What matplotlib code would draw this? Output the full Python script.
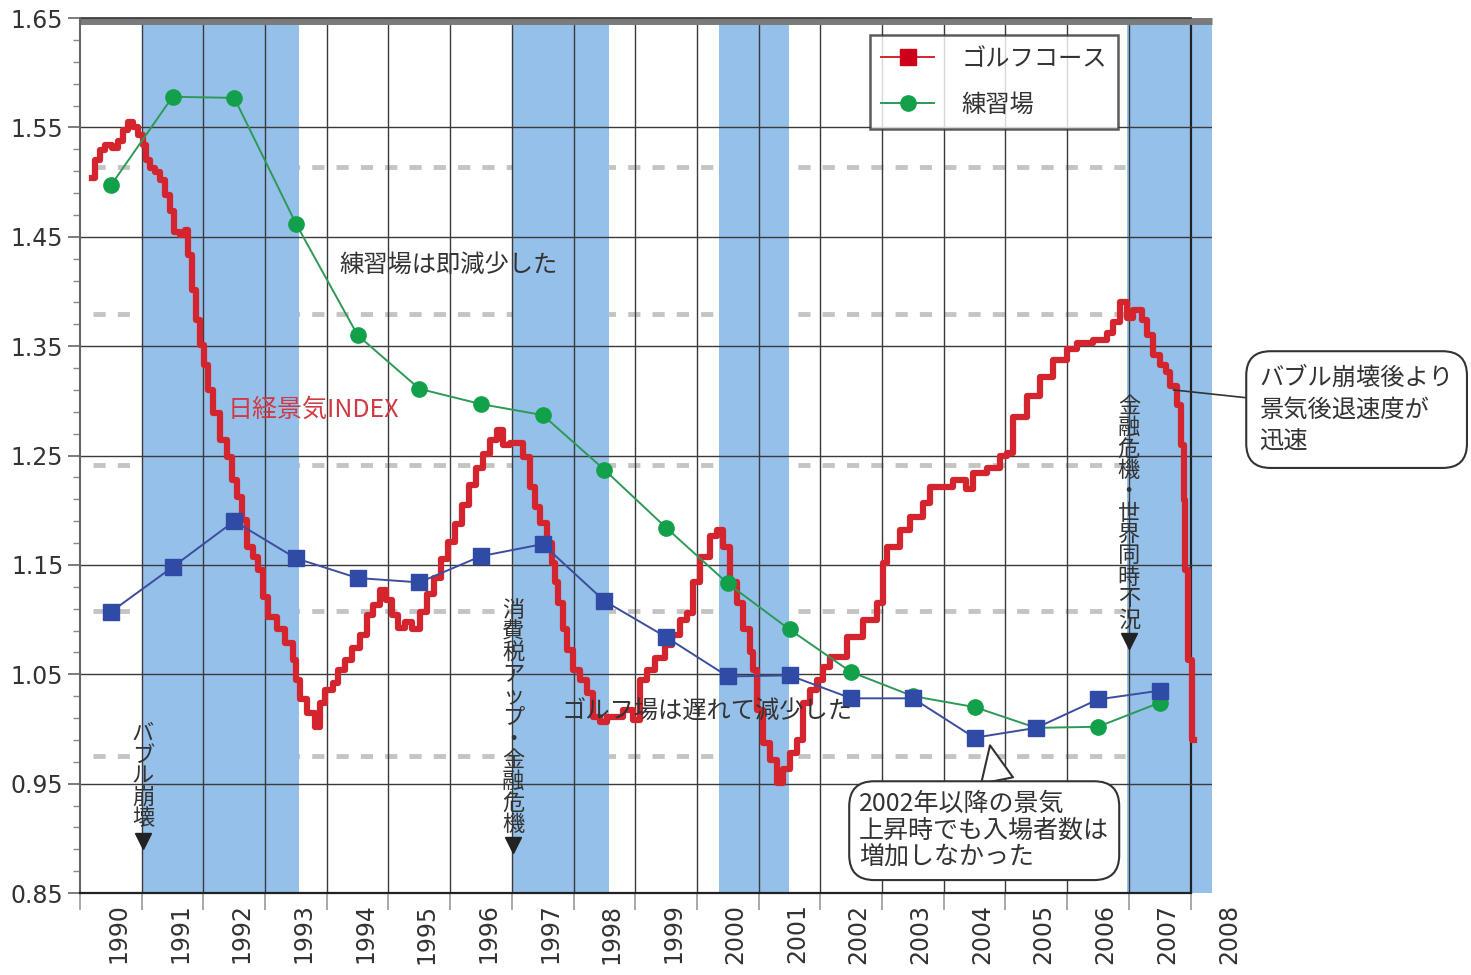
import numpy as np
import matplotlib.pyplot as plt
from matplotlib.lines import Line2D

plt.rcParams['font.family'] = ['Noto Sans CJK JP', 'DejaVu Sans']

# 年次データ(年の中央にプロット)
anios = np.arange(1990, 2008) + 0.5
golf_course = [1.107, 1.148, 1.190, 1.156, 1.138, 1.134, 1.158, 1.169, 1.117,
               1.084, 1.048, 1.049, 1.028, 1.028, 0.992, 1.001, 1.027, 1.035]
renshujo = [1.497, 1.578, 1.577, 1.462, 1.360, 1.311, 1.297, 1.287, 1.237,
            1.184, 1.133, 1.091, 1.052, 1.030, 1.020, 1.001, 1.002, 1.024]

# 日経景気INDEX (月次、階段状)
nikkei_t = [1990.19, 1990.24, 1990.32, 1990.41, 1990.52, 1990.62, 1990.70, 1990.78, 1990.86, 1990.94,
            1991.02, 1991.07, 1991.13, 1991.22, 1991.30, 1991.38, 1991.46, 1991.52, 1991.62, 1991.70,
            1991.75, 1991.82, 1991.88, 1991.94, 1992.01, 1992.07, 1992.16, 1992.27, 1992.38, 1992.46,
            1992.54, 1992.63, 1992.71, 1992.80, 1992.88, 1992.97, 1993.05, 1993.19, 1993.32, 1993.45,
            1993.50, 1993.57, 1993.68, 1993.81, 1993.89, 1993.97, 1994.10, 1994.18, 1994.30, 1994.41,
            1994.54, 1994.65, 1994.75, 1994.86, 1994.96, 1995.06, 1995.15, 1995.27, 1995.38, 1995.51,
            1995.62, 1995.74, 1995.85, 1995.96, 1996.08, 1996.19, 1996.30, 1996.42, 1996.53, 1996.65,
            1996.76, 1996.86, 1996.97, 1997.10, 1997.18, 1997.29, 1997.37, 1997.46, 1997.57, 1997.65,
            1997.70, 1997.75, 1997.83, 1997.89, 1997.99, 1998.10, 1998.22, 1998.31, 1998.43, 1998.54,
            1998.64, 1998.80, 1998.96, 1999.08, 1999.19, 1999.32, 1999.48, 1999.59, 1999.72, 1999.84,
            1999.94, 2000.05, 2000.21, 2000.32, 2000.42, 2000.53, 2000.65, 2000.75, 2000.86, 2000.91,
            2000.97, 2001.07, 2001.18, 2001.30, 2001.39, 2001.51, 2001.62, 2001.72, 2001.83, 2001.94,
            2002.04, 2002.16, 2002.43, 2002.69, 2002.92, 2003.01, 2003.08, 2003.29, 2003.45, 2003.66,
            2003.78, 2004.05, 2004.15, 2004.36, 2004.47, 2004.70, 2004.91, 2005.02, 2005.12, 2005.35,
            2005.56, 2005.77, 2006.00, 2006.16, 2006.42, 2006.64, 2006.74, 2006.86, 2006.97, 2007.07,
            2007.21, 2007.29, 2007.39, 2007.50, 2007.60, 2007.67, 2007.78, 2007.84, 2007.89, 2007.91,
            2007.96, 2008.02, 2008.05]
nikkei_v = [1.504, 1.520, 1.529, 1.534, 1.531, 1.538, 1.548, 1.555, 1.550, 1.543,
            1.534, 1.520, 1.513, 1.509, 1.502, 1.488, 1.474, 1.454, 1.452, 1.456,
            1.433, 1.401, 1.374, 1.351, 1.333, 1.310, 1.289, 1.264, 1.249, 1.228,
            1.212, 1.191, 1.166, 1.157, 1.145, 1.121, 1.102, 1.091, 1.079, 1.063,
            1.045, 1.027, 1.015, 1.002, 1.024, 1.036, 1.042, 1.054, 1.063, 1.074,
            1.086, 1.104, 1.113, 1.127, 1.118, 1.104, 1.092, 1.098, 1.091, 1.107,
            1.123, 1.138, 1.155, 1.171, 1.187, 1.205, 1.223, 1.239, 1.251, 1.264,
            1.273, 1.260, 1.261, 1.261, 1.249, 1.221, 1.203, 1.188, 1.170, 1.152,
            1.134, 1.115, 1.091, 1.072, 1.054, 1.045, 1.033, 1.011, 1.006, 1.011,
            1.011, 1.017, 1.008, 1.045, 1.054, 1.065, 1.077, 1.086, 1.100, 1.106,
            1.134, 1.157, 1.176, 1.182, 1.166, 1.134, 1.115, 1.091, 1.070, 1.054,
            1.017, 0.987, 0.972, 0.951, 0.963, 0.978, 0.990, 1.024, 1.036, 1.045,
            1.057, 1.066, 1.084, 1.100, 1.115, 1.152, 1.166, 1.182, 1.194, 1.207,
            1.221, 1.221, 1.228, 1.219, 1.234, 1.239, 1.250, 1.252, 1.285, 1.304,
            1.322, 1.337, 1.347, 1.353, 1.356, 1.362, 1.372, 1.390, 1.376, 1.383,
            1.374, 1.360, 1.342, 1.333, 1.326, 1.314, 1.296, 1.260, 1.209, 1.145,
            1.063, 0.990, 0.990]

# 景気後退期
bandas_ini = [1991.0, 1997.0, 2000.36, 2006.97]
bandas_fin = [1993.55, 1998.57, 2001.49, 2008.35]

# 点線(右軸の目盛り相当)
niveles_punteados = [1.514, 1.379, 1.241, 1.108, 0.975]

year_labels = [str(y) for y in range(1990, 2009)]

fig = plt.figure(figsize=(14.71, 9.75), dpi=100)
ax = fig.add_axes([0.0544, 0.0841, 0.824 - 0.0544, 0.9815 - 0.0841])

for a, b in zip(bandas_ini, bandas_fin):
    ax.axvspan(a, b, color='#95c0ea', zorder=1, lw=0)

for nv in niveles_punteados:
    ax.hlines(nv, 1990.21, 2006.94, colors='#c4c4c4', lw=3.5,
              linestyles=(0, (2.5, 2.5)), zorder=0.5)

# grid
for yr in range(1991, 2008):
    ax.axvline(yr, color='#3a3a3a', lw=1.0, zorder=2)
ax.axvline(2008, color='#222222', lw=1.6, zorder=2)
for v in np.arange(0.95, 1.60, 0.1):
    ax.axhline(v, color='#3a3a3a', lw=1.0, zorder=2)
ax.plot([1990, 2008.35], [1.647, 1.647], color='#7a7a7a', lw=5, zorder=2,
        solid_capstyle='butt', clip_on=False)
ax.plot([1990, 2008], [1.65, 1.65], color='#333333', lw=1.2, zorder=2, clip_on=False)

# series
ax.plot(nikkei_t, nikkei_v, drawstyle='steps-post', color='#d4252e', lw=4.5, zorder=3)
ax.plot(anios, renshujo, color='#2c9a56', lw=1.4, marker='o', ms=11,
        mfc='#13a04a', mec='#13a04a', zorder=4)
ax.plot(anios, golf_course, color='#3d4d9e', lw=1.4, marker='s', ms=11,
        mfc='#2f4ba6', mec='#2f4ba6', zorder=5)

# axes
for s in ['top', 'right']:
    ax.spines[s].set_visible(False)
ax.spines['left'].set_color('#666666')
ax.spines['left'].set_linewidth(1.5)
ax.spines['bottom'].set_color('#222222')
ax.spines['bottom'].set_linewidth(1.6)
ax.spines['bottom'].set_bounds(1990, 2008)

ax.set_yticks(np.round(np.arange(0.85, 1.651, 0.1), 2))
ax.set_yticklabels(['%.2f' % v for v in np.arange(0.85, 1.651, 0.1)],
                   fontsize=17, color='#333333', fontfamily='DejaVu Sans')
ax.set_yticks(np.arange(0.85, 1.65, 0.02), minor=True)
ax.tick_params(axis='y', which='major', length=9, width=1.2, color='#666666', pad=3)
ax.tick_params(axis='y', which='minor', length=5, width=1.0, color='#888888')

ax.set_xticks(range(1990, 2009))
ax.set_xticklabels([])
ax.tick_params(axis='x', which='major', length=12, width=1.2, color='#999999')
# 年ラベル(年の中央付近)
for yr, lab in zip(range(1990, 2009), year_labels):
    ax.text(yr + 0.62, -0.012, lab, transform=ax.get_xaxis_transform(), rotation=90,
            ha='center', va='top', fontsize=17, color='#333333', fontfamily='DejaVu Sans')

ax.set_xlim(1990, 2008.35)
ax.set_ylim(0.85, 1.65)

# textos
ax.text(1994.21, 1.424, '練習場は即減少した', fontsize=17.5, color='#333333',
        va='center', ha='left', zorder=6)
ax.text(1992.40, 1.292, '日経景気INDEX', fontsize=18, color='#d03a44',
        va='center', ha='left', zorder=6)
ax.text(1997.81, 1.016, 'ゴルフ場は遅れて減少した', fontsize=17.5, color='#333333',
        va='center', ha='left', zorder=6)

def vertical(x, y_bottom, txt, y_tri):
    ax.text(x, y_bottom, '\n'.join(txt), fontsize=16, color='#333333', ha='center',
            va='bottom', linespacing=0.91, zorder=6)
    ax.plot([x], [y_tri], marker='v', ms=12, color='#222222', zorder=6)

vertical(1991.02, 0.907, 'バブル崩壊', 0.898)
vertical(1997.02, 0.902, '消費税アップ・金融危機', 0.894)
vertical(2007.00, 1.089, '金融危機・世界同時不況', 1.080)

ax.annotate('バブル崩壊後より\n景気後退速度が\n迅速', xy=(2007.72, 1.31),
            xytext=(2009.12, 1.292), fontsize=17.5, color='#333333', ha='left',
            va='center', linespacing=1.3, annotation_clip=False, zorder=7,
            bbox=dict(boxstyle='round,pad=0.55,rounding_size=1.0', fc='white',
                      ec='#333333', lw=1.5),
            arrowprops=dict(arrowstyle='-', color='#333333', lw=1.2,
                            shrinkA=0, shrinkB=0))

ax.annotate('2002年以降の景気\n上昇時でも入場者数は\n増加しなかった', xy=(2004.75, 0.985),
            xytext=(2002.63, 0.907), fontsize=18, color='#333333', ha='left',
            va='center', linespacing=1.02, annotation_clip=False, zorder=7,
            bbox=dict(boxstyle='round,pad=0.4,rounding_size=1.0', fc='white',
                      ec='#333333', lw=1.5),
            arrowprops=dict(arrowstyle='wedge,tail_width=1.3', fc='white',
                            ec='#333333', lw=1.5, shrinkA=0, shrinkB=0,
                            relpos=(0.56, 1.0)))

handles = [Line2D([], [], color='#d4252e', lw=1.4, marker='s', ms=11,
                  mfc='#cc0018', mec='#cc0018'),
           Line2D([], [], color='#2c9a56', lw=1.4, marker='o', ms=11,
                  mfc='#13a04a', mec='#13a04a')]
leg = ax.legend(handles, ['ゴルフコース', '練習場'], loc='upper left',
                bbox_to_anchor=(870 / 1471, 1 - 35 / 975), bbox_transform=fig.transFigure,
                fontsize=17.5, frameon=True, fancybox=False, handlelength=2.2,
                borderpad=0.45, labelspacing=0.82, handletextpad=1.1, borderaxespad=0)
leg.get_frame().set_edgecolor('#333333')
leg.get_frame().set_linewidth(1.8)
leg.set_zorder(8)
for t in leg.get_texts():
    t.set_color('#333333')

fig.savefig('out.png', dpi=100)
